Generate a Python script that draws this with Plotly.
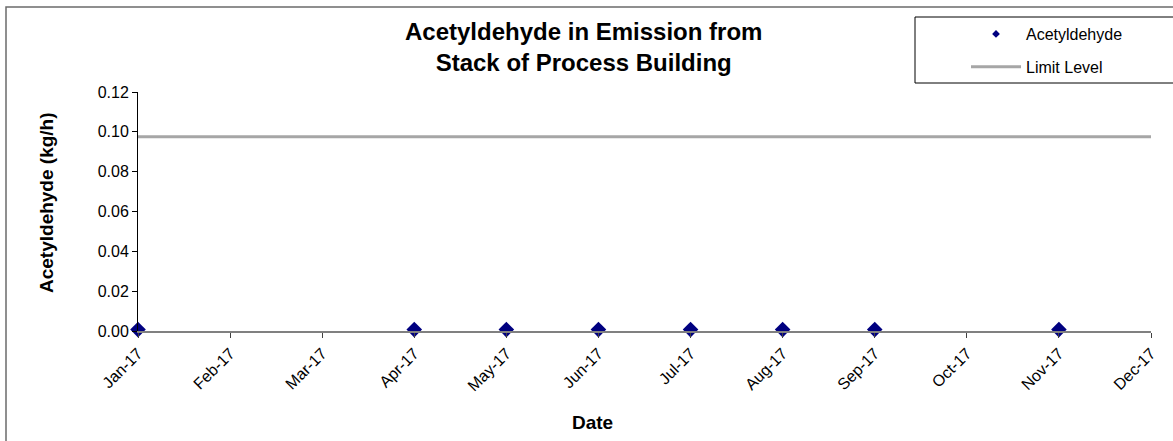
import plotly.graph_objects as go

# data
months = ['Jan-17', 'Feb-17', 'Mar-17', 'Apr-17', 'May-17', 'Jun-17',
          'Jul-17', 'Aug-17', 'Sep-17', 'Oct-17', 'Nov-17', 'Dec-17']
sample_months = ['Jan-17', 'Apr-17', 'May-17', 'Jun-17', 'Jul-17', 'Aug-17', 'Sep-17', 'Nov-17']
acetyldehyde = [0.0007, 0.0007, 0.0007, 0.0007, 0.0007, 0.0007, 0.0007, 0.0007]
limit_level = [0.0975] * len(months)

W, H = 1173, 441
L, R, T, B = 138, 22, 92, 110
PW, PH = W - L - R, H - T - B

FONT = "Liberation Sans, Arial, sans-serif"


def px_x(px):
    return (px - L) / PW


def px_y(py):
    return (H - B - py) / PH


fig = go.Figure()

fig.add_trace(go.Scatter(
    x=sample_months, y=acetyldehyde,
    mode='markers', name='Acetyldehyde',
    marker=dict(symbol='diamond', size=12, color='#000080'),
    cliponaxis=False, showlegend=False
))
# legend-only entry with the smaller marker shown in the key
fig.add_trace(go.Scatter(
    x=[None], y=[None],
    mode='markers', name='Acetyldehyde',
    marker=dict(symbol='diamond', size=6, color='#000080'),
    legendgroup='a'
))

fig.add_trace(go.Scatter(
    x=months, y=limit_level,
    mode='lines', name='Limit Level',
    line=dict(color='#A6A6A6', width=3),
    cliponaxis=False, legendgroup='b'
))

# outer chart border and legend box
fig.add_shape(type='rect', xref='paper', yref='paper',
              x0=px_x(6), x1=px_x(1190), y0=px_y(470), y1=px_y(7),
              line=dict(color='#6b6b6b', width=1.5), layer='below')
fig.add_shape(type='rect', xref='paper', yref='paper',
              x0=px_x(915), x1=px_x(1190), y0=px_y(83), y1=px_y(17),
              line=dict(color='#000000', width=1), layer='below')

fig.add_annotation(text='Acetyldehyde in Emission from<br>Stack of Process Building',
                   xref='paper', yref='paper', x=px_x(583), y=px_y(47),
                   showarrow=False, xanchor='center', yanchor='middle',
                   font=dict(family=FONT, size=24, color='black', weight='bold'))
fig.add_annotation(text='Date', xref='paper', yref='paper', x=px_x(592), y=px_y(422),
                   showarrow=False, xanchor='center', yanchor='middle',
                   font=dict(family=FONT, size=19, color='black', weight='bold'))
fig.add_annotation(text='Acetyldehyde (kg/h)', xref='paper', yref='paper',
                   x=px_x(46), y=px_y(203), textangle=-90,
                   showarrow=False, xanchor='center', yanchor='middle',
                   font=dict(family=FONT, size=19, color='black', weight='bold'))

fig.update_layout(
    width=W, height=H,
    margin=dict(l=L, r=R, t=T, b=B),
    paper_bgcolor='white', plot_bgcolor='white',
    font=dict(family=FONT, size=16, color='black'),
    showlegend=True,
    legend=dict(x=px_x(966), y=px_y(17), xanchor='left', yanchor='top',
                bgcolor='rgba(0,0,0,0)', borderwidth=0, itemwidth=50,
                tracegroupgap=9, font=dict(size=16)),
)

fig.update_xaxes(
    type='category', categoryorder='array', categoryarray=months,
    range=[0, 11], tickangle=-45, showgrid=False,
    showline=True, linecolor='#808080', linewidth=1.5,
    ticks='outside', ticklen=5, tickcolor='#404040',
    tickfont=dict(size=16), fixedrange=True
)
fig.update_yaxes(
    range=[0, 0.12], dtick=0.02, tickformat='.2f', showgrid=False,
    zeroline=False, showline=True, linecolor='black', linewidth=1,
    ticks='outside', ticklen=5, tickcolor='black',
    tickfont=dict(size=16), fixedrange=True
)

fig.write_html("out.html", config={'displayModeBar': False},
               post_script="document.body.style.margin='0';")
